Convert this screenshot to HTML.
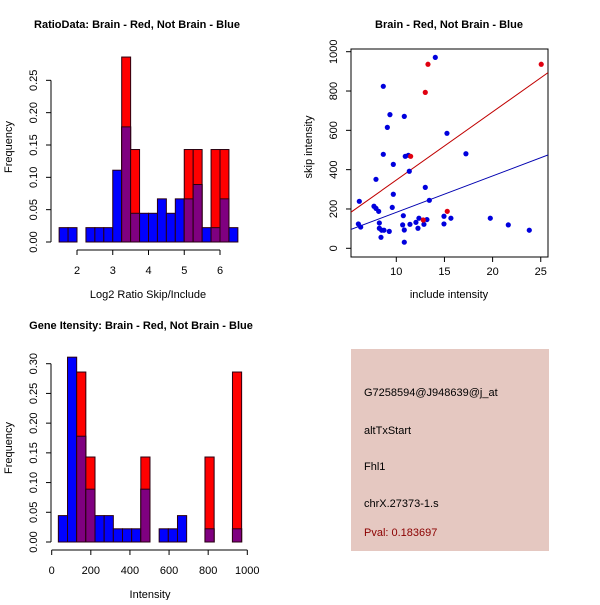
<!DOCTYPE html>
<html><head><meta charset="utf-8"><style>
body{margin:0;background:#fff;width:600px;height:600px;overflow:hidden}
svg{font-family:"Liberation Sans",sans-serif}
</style></head><body>
<svg id="s" width="600" height="600" xmlns="http://www.w3.org/2000/svg">
<rect width="600" height="600" fill="#fff"/>
<rect x="351" y="349" width="198" height="202" fill="#e5c8c1"/>
<text x="364" y="396" font-size="11" fill="#000">G7258594@J948639@j_at</text>
<text x="364" y="434" font-size="11" fill="#000">altTxStart</text>
<text x="364" y="470" font-size="11" fill="#000">Fhl1</text>
<text x="364" y="507" font-size="11" fill="#000">chrX.27373-1.s</text>
<text x="364" y="536" font-size="11" fill="#8b0000">Pval: 0.183697</text>
</svg>
<script>
// Histogram 1: Log2 ratio
const ratioBins=[1.5,1.75,2,2.25,2.5,2.75,3,3.25,3.5,3.75,4,4.25,4.5,4.75,5,5.25,5.5,5.75,6,6.25,6.5];
const ratioBlue=[.0222,.0222,0,.0222,.0222,.0222,.111,.178,.0444,.0444,.0444,.0667,.0444,.0667,.0667,.0889,.0222,.0222,.0667,.0222];
const ratioRed=[0,0,0,0,0,0,0,.286,.143,0,0,0,0,0,.143,.143,0,.143,.143,0];
const ratioXTicks=[2,3,4,5,6];
const ratioYTicks=["0.00","0.05","0.10","0.15","0.20","0.25"];
// Histogram 2: Intensity
const intBins=[34,80.85,127.7,174.55,221.4,268.25,315.1,361.95,408.8,455.65,502.5,549.35,596.2,643.05,689.9,736.75,783.6,830.45,877.3,924.15,971];
const intBlue=[.0444,.311,.178,.0889,.0444,.0444,.0222,.0222,.0222,.0889,0,.0222,.0222,.0444,0,0,.0222,0,0,.0222];
const intRed=[0,0,.286,.143,0,0,0,0,0,.143,0,0,0,0,0,0,.143,0,0,.286];
const intXTicks=[0,200,400,600,800,1000];
const intYTicks=["0.00","0.05","0.10","0.15","0.20","0.25","0.30"];
// Scatter
const blueX=[6.16,6.06,6.30,8.65,9.34,9.07,10.83,8.65,7.89,9.69,9.69,9.58,7.68,7.89,8.17,8.24,8.24,8.48,8.72,8.41,9.27,10.66,10.73,10.83,10.83,10.93,11.25,11.35,11.42,12.04,12.35,12.25,13.01,13.43,12.87,13.18,14.05,15.26,17.23,14.95,14.95,15.67,19.76,21.63,23.81];
const blueY=[239,124,108,824,680,615,671,478,351,427,275,208,214,203,188,129,102,92,92,56,86,119,166,93,31,468,473,392,122,132,153,102,310,244,122,146,971,585,481,163,124,153,153,119,92];
const redX=[13.29,13.01,11.49,15.29,12.80,25.05];
const redY=[936,793,468,188,144,936];
const fitRed=[0,34.7];
const fitBlue=[-2,18.5];
const scXTicks=[10,15,20,25];
const scYTicks=[0,200,400,600,800,1000];

const S=document.getElementById('s');
const NS='http://www.w3.org/2000/svg';
function mk(tag,at,parent){const e=document.createElementNS(NS,tag);for(const k in at)e.setAttribute(k,at[k]);(parent||S).appendChild(e);return e;}
function txt(x,y,s,size,opts){const t=mk('text',Object.assign({x:x,y:y,'font-size':size,'text-anchor':'middle',fill:'#000'},opts||{}));t.textContent=s;return t;}

function hist(bins,blue,red,xs,ys,xTicks,yTicks,yStep,axisY,axisX,pfx){
  const g=mk('g',{});
  
  
  for(let i=0;i<blue.length;i++){
    const x0=xs(bins[i]),x1=xs(bins[i+1]);
    const b=blue[i],r=red[i],m=Math.min(b,r);
    if(b>0){const e=mk('rect',{x:x0,y:ys(b),width:x1-x0,height:ys(0)-ys(b),fill:'#0000ff',stroke:'#2a0010','stroke-width':1},g);
      
      }
    if(r>0){const e=mk('rect',{x:x0,y:ys(r),width:x1-x0,height:ys(0)-ys(r),fill:'#ff0000',stroke:'#2a0010','stroke-width':1},g);
      
      }
    if(m>0){const e=mk('rect',{x:x0,y:ys(m),width:x1-x0,height:ys(0)-ys(m),fill:'#7f0080',stroke:'#2a0010','stroke-width':1},g);
      
      }
  }
  const xa=mk('g',{});
  
  
  mk('line',{x1:xs(xTicks[0]),x2:xs(xTicks[xTicks.length-1]),y1:axisY,y2:axisY,stroke:'#000'},xa);
  xTicks.forEach(v=>{mk('line',{x1:xs(v),x2:xs(v),y1:axisY,y2:axisY+5,stroke:'#000'},xa);
    const t=txt(xs(v),axisY+24,String(v),11);xa.appendChild(t);});
  const ya=mk('g',{});
  
  
  mk('line',{x1:axisX,x2:axisX,y1:ys(0),y2:ys(yStep*(yTicks.length-1)),stroke:'#000'},ya);
  yTicks.forEach((s,i)=>{const y=ys(i*yStep);mk('line',{x1:axisX,x2:axisX-5,y1:y,y2:y,stroke:'#000'},ya);
    const bx=axisX-14;
    const t=txt(bx,y,s,11,{transform:'rotate(-90 '+bx+' '+y+')'});ya.appendChild(t);});
}

// Plot 1
const xs1=v=>77+(v-2)*35.75, ys1=v=>242-v*646.7;
hist(ratioBins,ratioBlue,ratioRed,xs1,ys1,ratioXTicks,ratioYTicks,0.05,250,51,'ratio');
let t=txt(137,28,'RatioData: Brain - Red, Not Brain - Blue',11,{'font-weight':'bold'});


t=txt(148,298,'Log2 Ratio Skip/Include',11);


t=txt(12,147,'Frequency',11,{transform:'rotate(-90 12 147)'});



// Plot 3
const xs3=v=>51.7+v*0.1956, ys3=v=>542-v*594.3;
hist(intBins,intBlue,intRed,xs3,ys3,intXTicks,intYTicks,0.05,550,51,'intensity');
t=txt(141,329,'Gene Itensity: Brain - Red, Not Brain - Blue',11,{'font-weight':'bold'});


t=txt(150,598,'Intensity',11);


t=txt(12,448,'Frequency',11,{transform:'rotate(-90 12 448)'});



// Scatter
const xs2=v=>396.3+(v-10)*9.63, ys2=v=>248.3-v*0.1966;
const box=mk('rect',{x:351,y:49,width:197,height:208,fill:'none',stroke:'#000'});


const cp=mk('clipPath',{id:'cp'});mk('rect',{x:351,y:49,width:197,height:208},cp);
const lx0=(351-396.3)/9.63+10, lx1=(548-396.3)/9.63+10;
let l=mk('line',{x1:xs2(lx0),x2:xs2(lx1),y1:ys2(fitRed[0]+fitRed[1]*lx0),y2:ys2(fitRed[0]+fitRed[1]*lx1),stroke:'#c00000','clip-path':'url(#cp)'});


l=mk('line',{x1:xs2(lx0),x2:xs2(lx1),y1:ys2(fitBlue[0]+fitBlue[1]*lx0),y2:ys2(fitBlue[0]+fitBlue[1]*lx1),stroke:'#0000b0','clip-path':'url(#cp)'});


blueX.forEach((x,i)=>{const c=mk('circle',{cx:xs2(x),cy:ys2(blueY[i]),r:2.6,fill:'#0000dd'});
  
  });
redX.forEach((x,i)=>{const c=mk('circle',{cx:xs2(x),cy:ys2(redY[i]),r:2.6,fill:'#e00010'});
  
  });
scXTicks.forEach(v=>{mk('line',{x1:xs2(v),x2:xs2(v),y1:257,y2:262,stroke:'#000'});txt(xs2(v),275,String(v),11);});
scYTicks.forEach(v=>{const y=ys2(v);mk('line',{x1:351,x2:346,y1:y,y2:y,stroke:'#000'});txt(337,y,String(v),11,{transform:'rotate(-90 337 '+y+')'});});
t=txt(449,28,'Brain - Red, Not Brain - Blue',11,{'font-weight':'bold'});


t=txt(449,298,'include intensity',11);


t=txt(312,147,'skip intensity',11,{transform:'rotate(-90 312 147)'});


</script>
</body></html>
